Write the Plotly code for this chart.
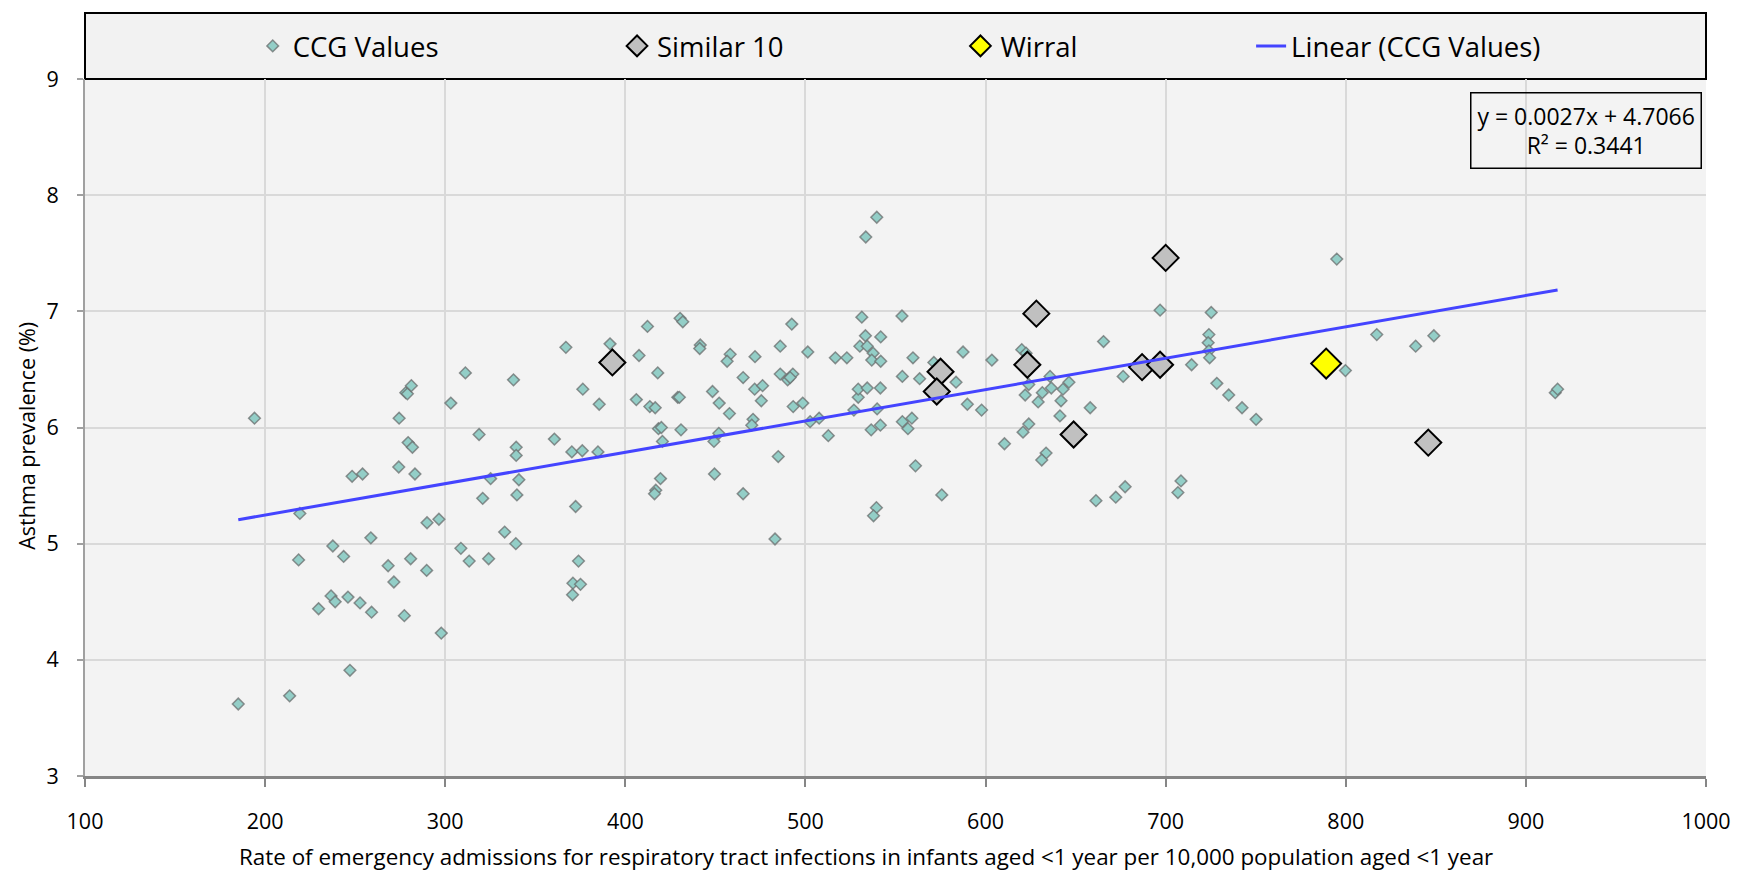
import plotly.graph_objects as go

# CCG values: rate of emergency RTI admissions (<1 yr) vs asthma prevalence (%)
ccg_rate = [
    194.1, 185.1, 213.6, 247.1, 219.3, 218.6, 237.6, 243.6, 258.7, 229.7,
    236.6, 238.9, 246.0, 252.7, 259.1, 268.3, 271.5, 277.3, 280.8, 289.7,
    297.8, 248.3, 254.1, 274.2, 283.2, 279.4, 281.8, 274.4, 278.1, 279.0,
    281.2, 303.1, 311.2, 337.9, 367.0, 376.4, 385.5, 318.8, 360.6, 339.4,
    339.4, 370.3, 376.1, 384.8, 325.2, 340.9, 320.8, 339.8, 372.4, 289.9,
    296.5, 308.7, 313.3, 324.1, 333.0, 339.2, 374.0, 370.9, 375.1, 370.7,
    539.6, 533.5, 531.3, 553.6, 430.4, 431.9, 412.3, 492.4, 391.5, 407.6,
    441.6, 441.3, 458.2, 456.5, 472.0, 486.0, 501.3, 516.6, 523.0, 533.3,
    530.2, 534.3, 541.8, 537.6, 536.8, 541.8, 559.7, 587.5, 603.5, 553.8,
    563.4, 583.6, 571.3, 418.0, 406.1, 413.6, 416.6, 429.1, 430.0, 448.4,
    452.1, 457.8, 465.4, 471.8, 476.2, 475.5, 486.0, 490.1, 493.0, 491.5,
    493.2, 498.5, 470.9, 470.2, 502.6, 507.6, 526.9, 529.3, 529.3, 534.3,
    541.6, 539.8, 536.5, 541.6, 553.8, 559.1, 556.9, 589.9, 597.8, 418.4,
    420.0, 420.6, 430.9, 451.9, 449.2, 512.7, 484.9, 449.5, 419.5, 416.9,
    416.2, 465.4, 561.1, 575.7, 539.4, 537.8, 483.1, 795.0, 696.9, 725.3,
    665.5, 620.1, 622.5, 724.0, 723.6, 724.0, 724.4, 714.4, 799.8, 817.2,
    624.0, 635.8, 646.3, 643.0, 636.5, 631.5, 622.0, 629.2, 641.9, 641.3,
    658.1, 676.4, 624.0, 620.8, 610.5, 633.6, 631.2, 728.4, 735.0, 742.4,
    750.2, 661.3, 672.3, 677.5, 708.5, 706.8, 838.8, 848.9, 916.3, 917.6,
]
ccg_prev = [
    6.08, 3.62, 3.69, 3.91, 5.26, 4.86, 4.98, 4.89, 5.05, 4.44,
    4.55, 4.50, 4.54, 4.49, 4.41, 4.81, 4.67, 4.38, 4.87, 4.77,
    4.23, 5.58, 5.60, 5.66, 5.60, 5.87, 5.83, 6.08, 6.30, 6.29,
    6.36, 6.21, 6.47, 6.41, 6.69, 6.33, 6.20, 5.94, 5.90, 5.83,
    5.76, 5.79, 5.80, 5.79, 5.56, 5.55, 5.39, 5.42, 5.32, 5.18,
    5.21, 4.96, 4.85, 4.87, 5.10, 5.00, 4.85, 4.66, 4.65, 4.56,
    7.81, 7.64, 6.95, 6.96, 6.94, 6.91, 6.87, 6.89, 6.72, 6.62,
    6.71, 6.68, 6.63, 6.57, 6.61, 6.70, 6.65, 6.60, 6.60, 6.79,
    6.70, 6.70, 6.78, 6.64, 6.58, 6.57, 6.60, 6.65, 6.58, 6.44,
    6.42, 6.39, 6.56, 6.47, 6.24, 6.18, 6.17, 6.26, 6.26, 6.31,
    6.21, 6.12, 6.43, 6.33, 6.36, 6.23, 6.46, 6.41, 6.46, 6.43,
    6.18, 6.21, 6.07, 6.02, 6.05, 6.08, 6.15, 6.26, 6.33, 6.34,
    6.34, 6.16, 5.98, 6.02, 6.05, 6.08, 5.99, 6.20, 6.15, 5.99,
    6.00, 5.88, 5.98, 5.95, 5.88, 5.93, 5.75, 5.60, 5.56, 5.46,
    5.43, 5.43, 5.67, 5.42, 5.31, 5.24, 5.04, 7.45, 7.01, 6.99,
    6.74, 6.67, 6.64, 6.80, 6.73, 6.66, 6.60, 6.54, 6.49, 6.80,
    6.37, 6.44, 6.39, 6.33, 6.34, 6.30, 6.28, 6.22, 6.23, 6.10,
    6.17, 6.44, 6.03, 5.96, 5.86, 5.78, 5.72, 6.38, 6.28, 6.17,
    6.07, 5.37, 5.40, 5.49, 5.54, 5.44, 6.70, 6.79, 6.30, 6.33,
]

# Ten most similar CCGs
similar_rate = [392.8, 575.0, 572.9, 700.0, 628.2, 623.2, 648.9, 686.9, 696.9, 845.8]
similar_prev = [6.56, 6.48, 6.31, 7.46, 6.98, 6.54, 5.94, 6.52, 6.54, 5.87]

# Wirral CCG
wirral_rate = [789.1]
wirral_prev = [6.55]

# Linear trend line fitted to the CCG values
trend_slope = 0.0027
trend_intercept = 4.7066
trend_r2 = 0.3441

x_ticks = [100, 200, 300, 400, 500, 600, 700, 800, 900, 1000]
y_ticks = [3, 4, 5, 6, 7, 8, 9]

x_title = ("Rate of emergency admissions for respiratory tract infections "
           "in infants aged <1 year per 10,000 population aged <1 year")
y_title = "Asthma prevalence (%)"

FONT = "Open Sans"

trend_x = [min(ccg_rate), max(ccg_rate)]
trend_y = [trend_slope * v + trend_intercept for v in trend_x]

fig = go.Figure()

fig.add_trace(go.Scatter(
    x=ccg_rate, y=ccg_prev, mode="markers", name="CCG Values",
    legend="legend",
    marker=dict(symbol="diamond", size=9, color="#93CEC7",
                line=dict(color="rgba(105,110,110,0.75)", width=1.5)),
))
fig.add_trace(go.Scatter(
    x=similar_rate, y=similar_prev, mode="markers", name="Similar 10",
    legend="legend2",
    marker=dict(symbol="diamond", size=20, color="#C0C0C0",
                line=dict(color="black", width=2)),
))
fig.add_trace(go.Scatter(
    x=wirral_rate, y=wirral_prev, mode="markers", name="Wirral",
    legend="legend3",
    marker=dict(symbol="diamond", size=23, color="#FFFF00",
                line=dict(color="black", width=2)),
))
fig.add_trace(go.Scatter(
    x=trend_x, y=trend_y, mode="lines", name="Linear (CCG Values)",
    legend="legend4",
    line=dict(color="#4444FF", width=3),
))

L, R, T, B = 84.5, 30, 79, 95
W, H = 1743, 871
plot_w = W - L - R
plot_h = H - T - B


def px_x(p):
    return (p - L) / plot_w


def px_y(p):
    return (H - B - p) / plot_h


legend_common = dict(
    orientation="h", yanchor="middle", xanchor="left",
    y=px_y(46), bgcolor="rgba(0,0,0,0)", borderwidth=0,
    font=dict(family=FONT, size=27.5, color="black"),
    itemsizing="trace",
)

fig.update_layout(
    width=W, height=H,
    margin=dict(l=L, r=R, t=T, b=B, pad=0),
    paper_bgcolor="white",
    plot_bgcolor="#F3F3F3",
    font=dict(family=FONT, color="black"),
    showlegend=True,
    legend=dict(x=px_x(253), **legend_common),
    legend2=dict(x=px_x(619), **legend_common),
    legend3=dict(x=px_x(964), **legend_common),
    legend4=dict(x=px_x(1256), **legend_common),
    shapes=[dict(
        type="rect", xref="paper", yref="paper",
        x0=0, x1=1, y0=1, y1=px_y(13),
        line=dict(color="black", width=2), fillcolor="#F2F2F2",
        layer="below",
    )],
    annotations=[
        dict(
            xref="paper", yref="paper", x=px_x(1709), y=px_y(92),
            xanchor="right", yanchor="top", showarrow=False, align="center",
            text=f"y = {trend_slope}x + {trend_intercept}<br>R² = {trend_r2}",
            font=dict(family=FONT, size=23, color="black"),
            bordercolor="black", borderwidth=1.5, borderpad=6,
            bgcolor="rgba(0,0,0,0)",
        ),
        dict(
            xref="paper", yref="paper", x=px_x(869), y=px_y(856),
            xanchor="center", yanchor="middle", showarrow=False,
            text=x_title,
            font=dict(family=FONT, size=22.4, color="black"),
        ),
        dict(
            xref="paper", yref="paper", x=px_x(25), y=px_y(436),
            xanchor="center", yanchor="middle", showarrow=False,
            text=y_title, textangle=-90,
            font=dict(family=FONT, size=21.5, color="black"),
        ),
    ],
)

fig.update_xaxes(
    range=[100, 1000], tickvals=x_ticks, ticktext=[str(v) for v in x_ticks],
    showgrid=True, gridcolor="#D9D9D9", gridwidth=2,
    showline=True, linecolor="#868686", linewidth=2.5,
    ticks="outside", ticklen=8, tickwidth=2, tickcolor="#868686",
    ticklabelstandoff=16,
    tickfont=dict(family=FONT, size=21.5, color="black"),
    zeroline=False,
)
fig.update_yaxes(
    range=[3, 9], tickvals=y_ticks, ticktext=[str(v) for v in y_ticks],
    showgrid=True, gridcolor="#D9D9D9", gridwidth=2,
    showline=True, linecolor="#A0A0A0", linewidth=2,
    ticks="outside", ticklen=6, tickwidth=2, tickcolor="#A0A0A0",
    ticklabelstandoff=14,
    tickfont=dict(family=FONT, size=21.5, color="black"),
    zeroline=False,
)

fig.write_html("out.html")
